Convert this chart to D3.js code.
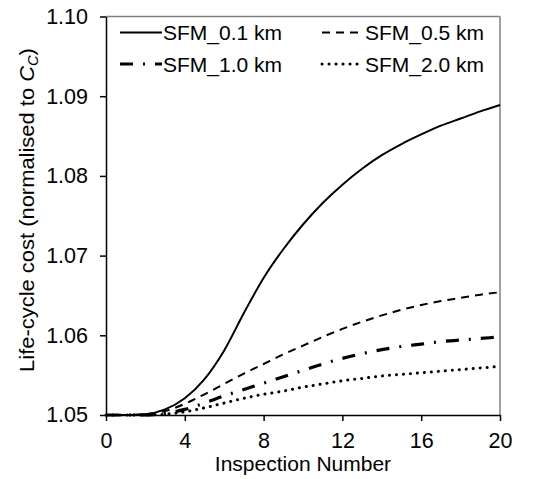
<!DOCTYPE html>
<html>
<head>
<meta charset="utf-8">
<script src="https://cdn.jsdelivr.net/npm/d3@7/dist/d3.min.js"></script>
<style>
  html, body { margin: 0; padding: 0; background: #fff; }
  svg text { font-family: Arial, "Liberation Sans", sans-serif; fill: #000; }
</style>
</head>
<body>
<svg id="chart" width="542" height="479"></svg>
<script>
// ---- data ----
const inspections = [0,1,2,3,4,5,6,7,8,9,10,11,12,13,14,15,16,17,18,19,20];
const sfm01 = [1.0500,1.0500,1.0501,1.0507,1.0521,1.0545,1.0581,1.0628,1.0672,1.0708,1.0739,1.0766,1.0789,1.0809,1.0826,1.0840,1.0852,1.0863,1.0872,1.0881,1.0889];
const sfm05 = [1.0500,1.0500,1.0501,1.0505,1.0514,1.0526,1.0539,1.0552,1.0564,1.0576,1.0587,1.0598,1.0608,1.0617,1.0625,1.0632,1.0638,1.0643,1.0647,1.0651,1.0654];
const sfm10 = [1.0500,1.0500,1.0500,1.0502,1.0507,1.0515,1.0524,1.0532,1.0540,1.0548,1.0556,1.0564,1.0571,1.0577,1.0582,1.0586,1.0589,1.0592,1.0594,1.0596,1.0598];
const sfm20 = [1.0500,1.0500,1.0500,1.0501,1.0504,1.0509,1.0515,1.0521,1.0526,1.0530,1.0535,1.0539,1.0543,1.0546,1.0549,1.0551,1.0553,1.0555,1.0557,1.0559,1.0561];
const seriesNames = ["SFM_0.1 km","SFM_0.5 km","SFM_1.0 km","SFM_2.0 km"];
const xTicks = [0,4,8,12,16,20];
const yTicks = [1.05,1.06,1.07,1.08,1.09,1.10];

// ---- styles ----
const styles = [
  {width: 2,   dash: null,          cap: "butt"},
  {width: 2,   dash: "8,6",         cap: "butt"},
  {width: 3.2, dash: "13,10,2,10",  cap: "butt"},
  {width: 3,   dash: "0.1,6.9",     cap: "round"}
];

const svg = d3.select("#chart");
const x = d3.scaleLinear().domain([0,20]).range([106,500]);
const y = d3.scaleLinear().domain([1.05,1.10]).range([415,16.5]);

// frame (top & right)
svg.append("line").attr("x1",x(0)).attr("x2",x(20)).attr("y1",y(1.10)).attr("y2",y(1.10))
  .attr("stroke","#7f7f7f").attr("stroke-width",1.5);
svg.append("line").attr("x1",x(20)).attr("x2",x(20)).attr("y1",y(1.10)).attr("y2",y(1.05))
  .attr("stroke","#7f7f7f").attr("stroke-width",1.5);

// axes
const gx = svg.append("g").attr("transform",`translate(0,${y(1.05)})`)
  .call(d3.axisBottom(x).tickValues(xTicks).tickFormat(d3.format("d")).tickSize(6).tickSizeOuter(0).tickPadding(12));
const gy = svg.append("g").attr("transform",`translate(${x(0)},0)`)
  .call(d3.axisLeft(y).tickValues(yTicks).tickFormat(d3.format(".2f")).tickSize(6).tickSizeOuter(0).tickPadding(12));
[gx, gy].forEach(g => {
  g.selectAll("path.domain").attr("stroke","#000").attr("stroke-width",1.5);
  g.selectAll(".tick line").attr("stroke","#000").attr("stroke-width",1.5);
  g.selectAll(".tick text").style("font-size","21.5px").style("font-family","Arial, 'Liberation Sans', sans-serif").attr("fill","#000");
});

// lines
const allSeries = [sfm01, sfm05, sfm10, sfm20];
const line = d3.line().x((d,i) => x(inspections[i])).y(d => y(d)).curve(d3.curveMonotoneX);
allSeries.forEach((s, k) => {
  const st = styles[k];
  svg.append("path").datum(s).attr("d", line)
    .attr("fill","none").attr("stroke","#000")
    .attr("stroke-width", st.width)
    .attr("stroke-dasharray", st.dash)
    .attr("stroke-linecap", st.cap);
});

// legend
const legendPos = [
  {x1:120, x2:162, ty:32.5, tx:163},
  {x1:322, x2:363, ty:32.5, tx:365},
  {x1:120, x2:162, ty:64,   tx:163},
  {x1:322, x2:363, ty:64,   tx:365}
];
seriesNames.forEach((name, k) => {
  const p = legendPos[k], st = styles[k];
  svg.append("line").attr("x1",p.x1).attr("x2",p.x2).attr("y1",p.ty).attr("y2",p.ty)
    .attr("stroke","#000").attr("stroke-width",st.width)
    .attr("stroke-dasharray",st.dash).attr("stroke-linecap",st.cap);
  svg.append("text").attr("x",p.tx).attr("y",p.ty).attr("dy","0.36em")
    .style("font-size","21px").text(name);
});

// axis titles
svg.append("text").attr("x",303).attr("y",471).attr("text-anchor","middle")
  .style("font-size","21px").text("Inspection Number");

const ytG = svg.append("g").attr("transform","translate(34,210) rotate(-90)");
const yt = ytG.append("text").attr("text-anchor","middle").style("font-size","21px");
yt.append("tspan").text("Life-cycle cost (normalised to ");
yt.append("tspan").style("font-style","italic").text("C");
yt.append("tspan").style("font-style","italic").style("font-size","14px").attr("dy","4").text("C");
yt.append("tspan").attr("dy","-4").text(")");
const natural = yt.node().getBBox().width;
const targetLen = 324;
if (natural > 0) yt.attr("transform", `scale(${targetLen / natural},1)`);
</script>
</body>
</html>
